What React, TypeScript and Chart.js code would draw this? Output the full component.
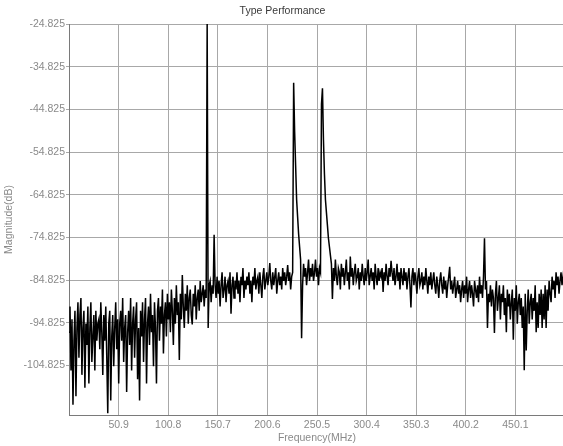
import React, { useEffect, useRef } from 'react';
import { Chart, registerables } from 'chart.js';

Chart.register(...registerables);

// Spectrum sampled every 1 MHz, starting at 1 MHz
const freqStartMHz = 1;
const freqStepMHz = 1;

const magnitudesDb: number[] = [
  -97, -91, -106, -94, -114, -99, -92, -112, -96, -90,
  -103, -93, -89, -107, -96, -92, -110, -95, -100, -91,
  -109, -96, -90, -104, -98, -93, -106, -92, -99, -95,
  -94, -101, -90, -97, -107, -93, -99, -91, -103, -116,
  -95, -92, -113, -98, -93, -105, -96, -90, -101, -94,
  -109, -95, -92, -99, -89, -104, -96, -93, -111, -97,
  -92, -100, -89, -106, -95, -91, -103, -94, -90, -108,
  -96, -113, -92, -98, -90, -104, -94, -89, -109, -95,
  -91, -100, -88, -97, -93, -105, -90, -96, -109, -92,
  -89, -99, -91, -95, -87, -102, -93, -90, -98, -88,
  -94, -90, -97, -87, -92, -100, -89, -95, -86, -93,
  -90, -103.5, -88, -94, -83.6, -91, -96, -88, -92, -86,
  -95, -89, -87, -93, -95.2, -88, -91, -86, -94, -89,
  -87, -92, -85, -90, -88, -86, -91, -87, -89, -24.5,
  -96, -86, -85, -90, -86, -88, -74.2, -86, -89, -84,
  -88, -85, -91, -86, -83, -89, -87, -84, -90, -86,
  -85, -88, -83, -92.7, -86, -84, -89, -85, -87, -83,
  -88, -85, -90, -84, -86, -82, -89, -85, -87, -84,
  -86, -83, -88, -85, -90, -84, -86, -82, -87, -85,
  -84, -88, -83, -86, -89, -84, -82, -87, -85, -83,
  -86, -84, -80.8, -85, -87, -83, -86, -84, -82, -88,
  -85, -83, -86, -84, -87, -82, -85, -83, -86, -84,
  -81.3, -85, -83, -87, -84, -83, -38.6, -50, -58, -66,
  -70, -74, -77, -80, -98.4, -86, -81, -84, -82, -86,
  -83, -80, -85, -82, -84, -81, -85, -83, -80, -84,
  -82, -86, -82, -83, -43.6, -39.9, -52, -60, -66, -69,
  -72, -75, -77, -79, -81, -89.2, -82, -85, -80, -84,
  -86, -82, -83, -87, -81, -84, -82, -86, -83, -80,
  -85, -83, -87, -79.3, -84, -82, -86, -83, -81, -85,
  -84, -82, -87, -83, -85, -81, -84, -86, -82, -85,
  -83, -80, -86, -84, -82, -85, -83, -87, -81, -84,
  -86, -82, -85, -83, -84, -82, -87.6, -83, -85, -81,
  -84, -86, -82, -84, -80.3, -83, -85, -82, -86, -84,
  -81, -85, -83, -87, -82, -84, -86, -82, -85, -83,
  -87, -84, -82, -86, -91.2, -84, -82, -86, -83, -85,
  -88, -84, -82, -86, -85, -83, -87, -84, -86, -82,
  -85, -88, -84, -86, -83, -87, -85, -83, -86, -88,
  -84, -86, -89, -85, -83, -86, -88, -84, -87, -85,
  -89, -86, -84, -81.7, -87, -85, -88, -86, -84, -89,
  -87, -85, -88, -86, -90, -87, -85, -89, -86, -88,
  -84, -90, -87, -85, -89, -86, -88, -91, -85, -87,
  -89, -86, -90, -84, -88, -86, -89, -84, -75, -87,
  -85, -96, -88, -90, -86, -91, -87, -89, -97.2, -88,
  -85, -92, -89, -86, -94, -88, -90, -86, -93, -89,
  -97, -87, -91, -88, -94, -90, -87, -98.8, -89, -92,
  -86, -95, -90, -88, -93, -89, -96, -91, -105.9, -88,
  -101.3, -92, -87, -95, -90, -88, -94, -89, -92, -86,
  -97, -90, -96, -88, -93, -87, -96, -88, -94, -86,
  -96, -87, -92, -85, -88, -90, -84, -87, -85, -89,
  -83, -86, -84, -88, -85, -83, -86, -84, -82, -85,
];

const xTickValues = [50.9, 100.8, 150.7, 200.6, 250.5, 300.4, 350.3, 400.2, 450.1];
const yTickValues = [-104.825, -94.825, -84.825, -74.825, -64.825, -54.825, -44.825, -34.825, -24.825];

const xMin = 1;
const xMax = 500;
const yMin = -116.4;
const yMax = -24.825;

const chartTitle = 'Type Performance';
const xAxisTitle = 'Frequency(MHz)';
const yAxisTitle = 'Magnitude(dB)';

const FONT_FAMILY = '"Liberation Sans", Arial, Helvetica, sans-serif';

export default function App() {
  const canvasRef = useRef<HTMLCanvasElement | null>(null);

  useEffect(() => {
    const canvas = canvasRef.current;
    if (!canvas) return;
    const points = magnitudesDb.map((m, i) => ({ x: freqStartMHz + i * freqStepMHz, y: m }));
    const font = { family: FONT_FAMILY, size: 10.5, weight: 'normal' as const };
    const gridColor = '#a8a8a8';
    const labelColor = '#8a8a8a';

    const chart = new Chart(canvas, {
      type: 'line',
      data: {
        datasets: [
          {
            data: points,
            borderColor: '#000000',
            borderWidth: 1.5,
            pointRadius: 0,
            tension: 0,
            fill: false,
          },
        ],
      },
      options: {
        animation: false,
        responsive: false,
        maintainAspectRatio: false,
        layout: { padding: 0 },
        plugins: {
          legend: { display: false },
          tooltip: { enabled: false },
          title: {
            display: true,
            text: chartTitle,
            color: '#3a3a3a',
            font,
            padding: { top: 5, bottom: 6.4 },
          },
        },
        scales: {
          x: {
            type: 'linear',
            min: xMin,
            max: xMax,
            afterFit: (s: any) => {
              s.height = 31;
            },
            afterBuildTicks: (s: any) => {
              s.ticks = xTickValues.map((v) => ({ value: v }));
            },
            ticks: {
              callback: (v: any) => Number(v).toFixed(1),
              color: labelColor,
              font,
              padding: 4,
              maxRotation: 0,
              autoSkip: false,
            },
            grid: { color: gridColor, lineWidth: 1, drawTicks: false },
            border: { color: '#7a7a7a' },
            title: {
              display: true,
              text: xAxisTitle,
              color: labelColor,
              font,
              padding: { top: 0, bottom: 2 },
            },
          },
          y: {
            type: 'linear',
            min: yMin,
            max: yMax,
            afterFit: (s: any) => {
              s.width = 69;
            },
            afterBuildTicks: (s: any) => {
              s.ticks = yTickValues.map((v) => ({ value: v }));
            },
            ticks: {
              callback: (v: any) => Number(v).toFixed(3),
              color: labelColor,
              font,
              padding: 1,
              autoSkip: false,
            },
            grid: { color: gridColor, lineWidth: 1, tickLength: 3 },
            border: { color: '#7a7a7a' },
            title: {
              display: true,
              text: yAxisTitle,
              color: labelColor,
              font,
              padding: { top: 3, bottom: 0 },
            },
          },
        },
      },
    });
    return () => chart.destroy();
  }, []);

  return (
    <div
      style={{
        position: 'fixed',
        left: 0,
        top: 0,
        width: 563,
        height: 446,
        overflow: 'hidden',
        background: '#ffffff',
      }}
    >
      <canvas ref={canvasRef} width={565} height={446} style={{ display: 'block' }} />
    </div>
  );
}
